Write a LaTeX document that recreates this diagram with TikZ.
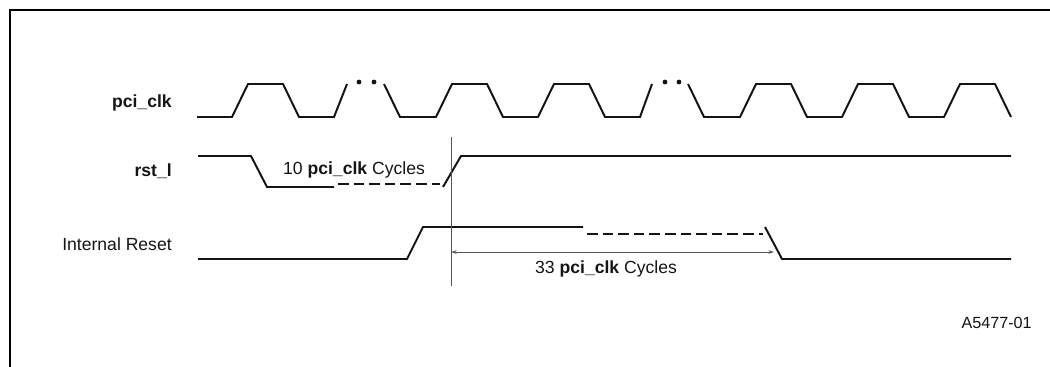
\documentclass[tikz,border=0pt]{standalone}
\usepackage{fontspec}
\setmainfont{Liberation Sans}
\usepackage{tikz}
\usetikzlibrary{arrows.meta}
\definecolor{wavedark}{RGB}{20,20,20}
\definecolor{markgray}{RGB}{85,85,85}

\begin{document}
\begin{tikzpicture}[
  x=0.025cm, y=-0.025cm,
  sig/.style={line width=1.4pt, wavedark, line join=miter},
  dsig/.style={sig, dash pattern=on 7.5pt off 3.6pt},
  lbl/.style={font=\fontsize{12.5}{15}\selectfont, text=wavedark, inner sep=0pt},
  dimline/.style={line width=0.6pt, markgray},
  cdot/.style={fill=wavedark}
]
\useasboundingbox (0,0) rectangle (1050,367);

% Frame (top and left edges only)
\draw[line width=1.6pt] (1050,10) -- (10,10) -- (10,367);

% Signal names
\node[lbl, anchor=base east] (clklbl) at (172,108) {\textbf{pci\_clk}};
\node[lbl, anchor=base east] (rstlbl) at (172,177) {\textbf{rst\_l}};
\node[lbl, anchor=base east] (intlbl) at (172,250) {Internal Reset};

% pci_clk waveform
\draw[sig] (197,117) -- (232,117)
  \foreach \r in {232} {-- (\r+16,84) -- (\r+51,84) -- (\r+67,117) -- (\r+102,117)}
  -- (347,84);
\fill[cdot] (359,82) circle[radius=1.7pt];
\fill[cdot] (374,82) circle[radius=1.7pt];
\draw[sig] (384,84) -- (400,117) -- (436,117)
  \foreach \r in {436,538} {-- (\r+16,84) -- (\r+51,84) -- (\r+67,117) -- (\r+102,117)}
  -- (652,84);
\fill[cdot] (665,82) circle[radius=1.7pt];
\fill[cdot] (679,82) circle[radius=1.7pt];
\draw[sig] (688,84) -- (704,117) -- (740,117)
  \foreach \r in {740,842} {-- (\r+16,84) -- (\r+51,84) -- (\r+67,117) -- (\r+102,117)}
  -- (960,84) -- (995,84) -- (1011,117);

% rst_l waveform
\draw[sig] (198,156) -- (251,156) -- (267,187) -- (334,187);
\draw[dsig] (338,184) -- (440,184);
\draw[sig] (443,187) -- (461,156) -- (1011,156);
\node[lbl, anchor=base] (tencyc) at (354,174) {10 \textbf{pci\_clk} Cycles};

% Internal Reset waveform
\draw[sig] (198,259) -- (407,259) -- (423,227) -- (583,227);
\draw[dsig] (587,234) -- (763,234);
\draw[sig] (765,227) -- (782,259) -- (1011,259);

% Reset release marker and 33 cycle span
\coordinate (marktop) at (451,137);
\coordinate (markbot) at (451,286);
\coordinate (spanL) at (451,252);
\coordinate (spanR) at (774,252);
\draw[dimline] (marktop) -- (markbot);
\draw[dimline, {Stealth[length=4pt,width=2.6pt]}-{Stealth[length=4pt,width=2.6pt]}] (spanL) -- (spanR);
\node[lbl, anchor=base] (thirtycyc) at (606,273) {33 \textbf{pci\_clk} Cycles};

% Figure id
\node[lbl, font=\fontsize{11.5}{14}\selectfont, anchor=base east] (figid) at (1032,328) {A5477-01};
\end{tikzpicture}
\end{document}
